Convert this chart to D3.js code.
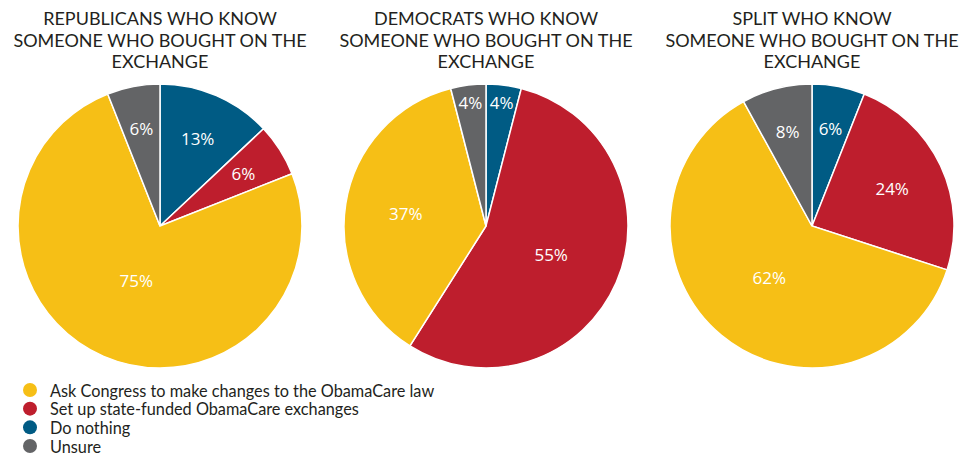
<!DOCTYPE html>
<html><head><meta charset="utf-8">
<script src="https://cdn.jsdelivr.net/npm/d3@7"></script>
<style>body{margin:0;background:#fff;}svg{display:block;}</style>
</head><body>
<svg id="chart" width="962" height="454"></svg>
<script>
// Data
const categories = ["Ask Congress to make changes to the ObamaCare law", "Set up state-funded ObamaCare exchanges", "Do nothing", "Unsure"];
const colors = ["#F6BF16", "#BE1E2D", "#005B84", "#636466"];
const titles = [
  ["REPUBLICANS WHO KNOW", "SOMEONE WHO BOUGHT ON THE", "EXCHANGE"],
  ["DEMOCRATS WHO KNOW", "SOMEONE WHO BOUGHT ON THE", "EXCHANGE"],
  ["SPLIT WHO KNOW", "SOMEONE WHO BOUGHT ON THE", "EXCHANGE"]
];
// values in category order: Ask Congress, Set up, Do nothing, Unsure
const republicans = [75, 6, 13, 6];
const democrats = [37, 55, 4, 4];
const split = [62, 24, 6, 8];
// clockwise drawing order from 12 o'clock
const sliceOrder = [2, 1, 0, 3];

const series = [republicans, democrats, split];
const svg = d3.select("#chart");
const R = 142;
const cy = 226;
const cx = d3.scalePoint().domain(d3.range(series.length)).range([160, 812]);

const pie = d3.pie().sort(null).value(d => d.v).startAngle(0).endAngle(2 * Math.PI);
const arc = d3.arc().innerRadius(0).outerRadius(R);

series.forEach((vals, gi) => {
  const g = svg.append("g").attr("transform", `translate(${cx(gi)},${cy})`);
  const items = sliceOrder.map(ci => ({ci, v: vals[ci]}));
  const arcs = pie(items);
  const total = d3.sum(items, d => d.v);
  g.selectAll("path").data(arcs).join("path")
    .attr("d", arc)
    .attr("fill", d => colors[d.data.ci])
    .attr("stroke", "#fff")
    .attr("stroke-width", 1.5);
  g.selectAll("text.lbl").data(arcs).join("text")
    .attr("class", "lbl")
    .each(function(d) {
      const f = d.data.v / total;
      const ratio = f < 0.05 ? 0.875 : 0.72 - 0.4 * f;
      const a = (d.startAngle + d.endAngle) / 2;
      const r = R * ratio;
      d3.select(this)
        .attr("x", Math.sin(a) * r)
        .attr("y", -Math.cos(a) * r);
    })
    .attr("text-anchor", "middle")
    .attr("dominant-baseline", "central")
    .attr("font-family", "'Open Sans', sans-serif")
    .attr("font-size", 17)
    .attr("fill", "#fff")
    .text(d => d.data.v + "%");

  const t = svg.append("text")
    .attr("text-anchor", "middle")
    .attr("font-family", "Lato, sans-serif")
    .attr("font-size", 18)
    .attr("fill", "#231f20");
  titles[gi].forEach((line, li) => {
    t.append("tspan").attr("x", cx(gi)).attr("y", 25 + li * 21.5).text(line);
  });
});

// Legend
const ly = d3.scalePoint().domain(d3.range(categories.length)).range([390, 446]);
const leg = svg.append("g");
categories.forEach((c, i) => {
  leg.append("circle").attr("cx", 30).attr("cy", ly(i)).attr("r", 7).attr("fill", colors[i]);
  leg.append("text").attr("x", 50).attr("y", ly(i)).attr("dominant-baseline", "central")
    .attr("font-family", "Lato, sans-serif").attr("font-size", 16.3).attr("fill", "#231f20").text(c);
});
</script>
</body></html>
